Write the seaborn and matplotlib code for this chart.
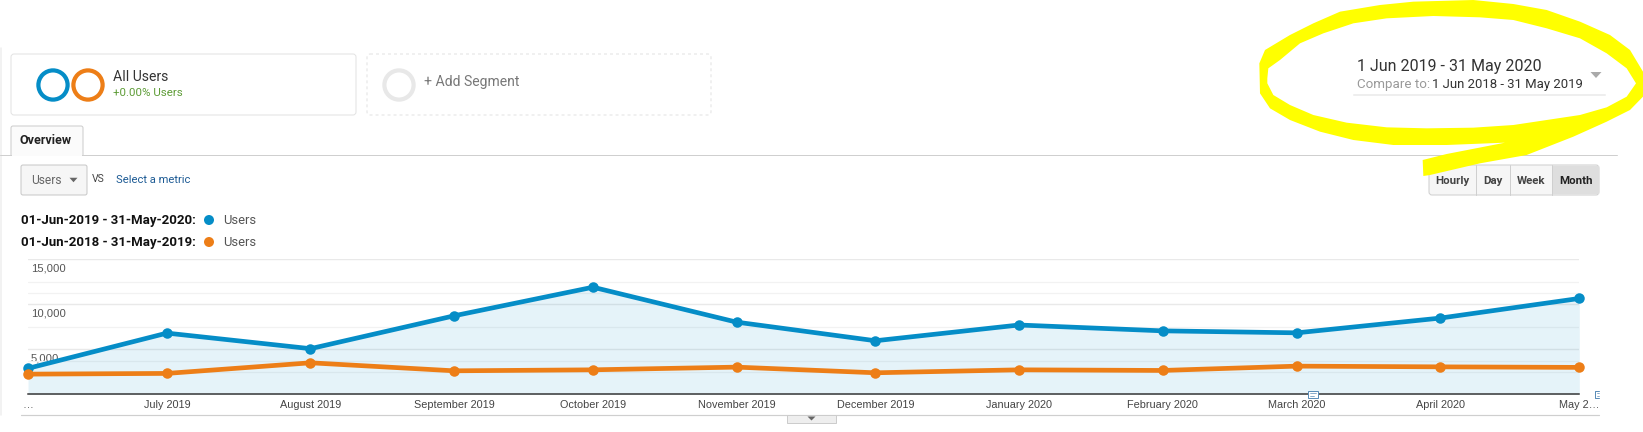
import numpy as np
import pandas as pd
import matplotlib
matplotlib.use("Agg")
import matplotlib.pyplot as plt
import seaborn as sns
from matplotlib.patches import Circle, Rectangle, FancyBboxPatch, Polygon, PathPatch
from matplotlib.path import Path
from matplotlib.transforms import ScaledTranslation

# ---------- data ----------
months = ["2019-06-01", "2019-07-01", "2019-08-01", "2019-09-01", "2019-10-01", "2019-11-01",
          "2019-12-01", "2020-01-01", "2020-02-01", "2020-03-01", "2020-04-01", "2020-05-01"]
users_current = [2880, 6800, 5070, 8720, 11900, 8020, 5950, 7700, 7050, 6830, 8470, 10650]
users_previous = [2240, 2320, 3500, 2610, 2720, 3020, 2390, 2720, 2650, 3130, 3050, 2990]
month_labels = ["…", "July 2019", "August 2019", "September 2019", "October 2019", "November 2019",
                "December 2019", "January 2020", "February 2020", "March 2020", "April 2020", "May 2…"]
y_major = [5000, 10000, 15000]
y_major_labels = ["5,000", "10,000", "15,000"]
y_minor = [2500, 3750, 7500, 11250, 12500]
series_names = ["01-Jun-2019 - 31-May-2020:", "01-Jun-2018 - 31-May-2019:"]

BLUE = "#058dc7"
ORANGE = "#ed7e17"
W, H = 1643, 432
PX = 0.72  # points per pixel at dpi 100

sns.set_style("white")
plt.rcParams["font.family"] = ["Roboto", "DejaVu Sans"]

fig = plt.figure(figsize=(W / 100, H / 100), dpi=100, facecolor="white")

# ---------- chart ----------
ax = fig.add_axes([28 / W, (H - 394.3) / H, (1579.3 - 28) / W, 135 / H])
dates = pd.to_datetime(months)
df = pd.DataFrame({
    "date": list(dates) * 2,
    "users": users_current + users_previous,
    "period": [series_names[0]] * 12 + [series_names[1]] * 12,
})
ax.fill_between(dates, users_current, 0, color=BLUE, alpha=0.10, lw=0, zorder=1)
sns.lineplot(data=df, x="date", y="users", hue="period", palette=[BLUE, ORANGE], marker="o",
             markersize=10.5 * PX, markeredgewidth=0, linewidth=4.7 * PX, errorbar=None,
             legend=False, ax=ax, zorder=3)
for ln in ax.lines:
    ln.set_clip_on(False)
ax.set_xlim(dates[0], dates[-1])
ax.set_ylim(0, 15000)
ax.set_xlabel("")
ax.set_ylabel("")
for s in ["top", "left", "right"]:
    ax.spines[s].set_visible(False)
ax.spines["bottom"].set_color("#333333")
ax.spines["bottom"].set_linewidth(1.5 * PX)
ax.patch.set_alpha(0)
ax.set_axisbelow(True)

ax.set_yticks(y_major)
ax.set_yticklabels(y_major_labels, fontfamily="Liberation Sans", fontsize=11.2 * PX, color="#555555",
                   ha="left", va="center")
ax.set_yticks(y_minor, minor=True)
ax.tick_params(axis="y", which="both", length=0, pad=-3 * PX)
ax.grid(True, axis="y", which="major", color="#e9e9e9", lw=1.4 * PX)
ax.grid(True, axis="y", which="minor", color="#f2f2f2", lw=1.2 * PX)
off = ScaledTranslation(0, -9 / 100, fig.dpi_scale_trans)
for lb in ax.get_yticklabels():
    lb.set_transform(lb.get_transform() + off)

ax.set_xticks(dates)
ax.set_xticklabels(month_labels, fontfamily="Liberation Sans", fontsize=10.9 * PX, color="#444444")
ax.tick_params(axis="x", length=0, pad=6 * PX)

# ---------- page furniture (pixel coordinates) ----------
ov = fig.add_axes([0, 0, 1, 1], zorder=5)
ov.set_xlim(0, W)
ov.set_ylim(H, 0)
ov.axis("off")
ov.patch.set_alpha(0)


def txt(x, y, s, size, color="#333333", weight="normal", ha="left", family="Roboto", z=4):
    ov.text(x, y, s, fontsize=size * PX, color=color, fontweight=weight, ha=ha, va="center",
            family=family, zorder=z)


def box(x0, y0, x1, y1, ec="#e3e3e3", fc="white", ls="-", r=3, lw=1, z=2):
    ov.add_patch(FancyBboxPatch((x0, y0), x1 - x0, y1 - y0, boxstyle=f"round,pad=0,rounding_size={r}",
                                ec=ec, fc=fc, ls=ls, lw=lw * PX, zorder=z))


def ring(x, y, color, r=14.6, w=4.2):
    ov.add_patch(Circle((x, y), r, fc="none", ec=color, lw=w * PX, zorder=3))


def tri(x, y, w, h, color):
    ov.add_patch(Polygon([(x - w / 2, y - h / 2), (x + w / 2, y - h / 2), (x, y + h / 2)], fc=color, ec="none", zorder=4))


# left page edge and rules
ov.plot([0.7, 0.7], [48, 415], color="#eeeeee", lw=1.5 * PX, zorder=1)
ov.plot([21, 1599], [415, 415], color="#cfcfcf", lw=1.2 * PX, zorder=1)

# segment boxes
box(11, 54, 356, 115)
ring(53, 85, BLUE)
ring(88, 85, ORANGE)
txt(113, 77, "All Users", 14, "#333333")
txt(113, 92.5, "+0.00% Users", 11.5, "#5e9c37")
box(367, 54, 711, 115, ls=(0, (3, 3)))
ring(399, 85, "#e8e8e8")
txt(424, 81.8, "+ Add Segment", 14, "#777777")

# tab
box(11, 126, 83, 160, ec="#cccccc", fc="#fbfbfb", r=2, z=1.5)
ov.add_patch(Rectangle((8, 155), 78, 7, fc="white", ec="none", zorder=1.6))
ov.plot([0, 1617], [154.5, 154.5], color="#cfcfcf", lw=1 * PX, zorder=1.7)
ov.add_patch(Rectangle((11.7, 150), 70.6, 6, fc="#fbfbfb", ec="none", zorder=1.8))
txt(20, 140, "Overview", 12.5, "#222222", "bold")

# metric selector
box(21, 165, 87, 195, ec="#c8c8c8", fc="#f6f6f6", r=2)
txt(31, 180, "Users", 12, "#666666")
tri(73.5, 180, 8, 4.5, "#666666")
txt(92, 179.5, "VS", 10.5, "#444444")
txt(116, 180, "Select a metric", 11.2, "#1c5a94")

# legend
for yy, name, col in zip([220.5, 242.5], series_names, [BLUE, ORANGE]):
    txt(21, yy, name, 13.2, "#111111", "bold")
    ov.add_patch(Circle((209, yy - 0.5), 5, fc=col, ec="none", zorder=3))
    txt(223, yy, "Users", 13, "#555555")

# date range
txt(1357, 67, "1 Jun 2019 - 31 May 2020", 16, "#333333")
txt(1357, 84.5, "Compare to:", 13.4, "#999999")
txt(1432, 84.5, "1 Jun 2018 - 31 May 2019", 13.1, "#333333")
ov.plot([1354, 1605], [95, 95], color="#eeeeee", lw=2 * PX, zorder=2)
tri(1596, 75, 11, 6, "#aaaaaa")

# granularity buttons
edges = [1429, 1476, 1510, 1552, 1599]
labels = ["Hourly", "Day", "Week", "Month"]
box(1429, 165, 1599, 195, ec="#cfcfcf", fc="#f6f6f6", r=3)
ov.add_patch(Rectangle((1552.5, 166), 46, 28, fc="#dedede", ec="none", zorder=2.5))
for e in edges[1:-1]:
    ov.plot([e, e], [165, 195], color="#cfcfcf", lw=1 * PX, zorder=3)
for i, lab in enumerate(labels):
    txt((edges[i] + edges[i + 1]) / 2, 180.5, lab, 11.5, "#222222" if lab == "Month" else "#444444", "bold", ha="center")

# bottom notch and annotation markers
ov.add_patch(Rectangle((787, 415), 49, 8, fc="#eeeeee", ec="#cccccc", lw=1 * PX, zorder=2))
tri(811.5, 418.5, 8, 4, "#666666")
ov.add_patch(Rectangle((1308, 391), 10, 7, fc="white", ec="#5b8db8", lw=1 * PX, zorder=4))
ov.plot([1310, 1316], [393.3, 393.3], color="#5b8db8", lw=0.7 * PX, zorder=5)
ov.plot([1310, 1314], [395.5, 395.5], color="#5b8db8", lw=0.7 * PX, zorder=5)
ov.plot([1599, 1594.5, 1594.5, 1599], [391, 391, 398, 398], color="#5b8db8", lw=1 * PX, zorder=5)
ov.plot([1596.5, 1599], [393.3, 393.3], color="#5b8db8", lw=0.7 * PX, zorder=5)
ov.plot([1596.5, 1599], [395.5, 395.5], color="#5b8db8", lw=0.7 * PX, zorder=5)

# yellow highlighter scribble (traced outline)
outer = [(238, 190), (255, 150), (330, 105), (400, 70), (480, 35), (600, 15), (700, 5), (880, 0), (1000, 12),
         (1100, 30), (1200, 65), (1290, 105), (1350, 150), (1389, 215), (1389, 290), (1350, 330), (1280, 365),
         (1180, 410), (1040, 465), (900, 490), (750, 525), (730, 528), (728, 480), (800, 462), (975, 428),
         (800, 435), (640, 435), (520, 420), (420, 395), (330, 360), (270, 325), (240, 280)]
inner = [(262, 235), (265, 205), (300, 180), (360, 130), (430, 100), (520, 70), (620, 55), (760, 48), (900, 52),
         (1000, 60), (1100, 85), (1200, 115), (1280, 160), (1340, 205), (1368, 250), (1340, 290), (1280, 322),
         (1200, 345), (1100, 360), (1000, 375), (880, 383), (740, 385), (620, 382), (500, 368), (400, 345),
         (330, 315), (280, 285), (262, 250)]


def to_px(pts):
    return [(1180 + a / 3, b / 3) for a, b in pts]


o = to_px(outer)
n = to_px(inner)[::-1]
verts = o + [o[0]] + n + [n[0]]
codes = [Path.MOVETO] + [Path.LINETO] * (len(o) - 1) + [Path.CLOSEPOLY] + \
        [Path.MOVETO] + [Path.LINETO] * (len(n) - 1) + [Path.CLOSEPOLY]
ov.add_patch(PathPatch(Path(verts, codes), fc="#ffff00", ec="none", zorder=6))

fig.savefig("out.png", dpi=100, facecolor="white")
